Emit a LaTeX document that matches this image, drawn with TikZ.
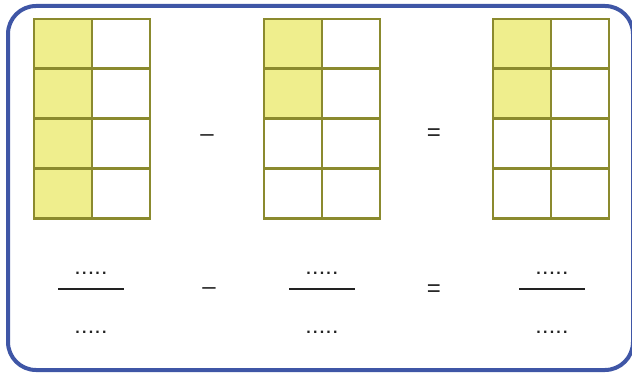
\documentclass[tikz,border=0pt]{standalone}
\usepackage{fontspec}
\setmainfont{Liberation Sans}
\definecolor{frameblue}{HTML}{3F56A6}
\definecolor{gridolive}{HTML}{8B8A2E}
\definecolor{cellyellow}{HTML}{EFEE8D}
\definecolor{inkdark}{HTML}{222222}
\newcommand\fivedots{.\kern2.2pt.\kern2.2pt.\kern2.2pt.\kern2.2pt.}
\begin{document}
\begin{tikzpicture}[x=1pt,y=-1pt,
  frame/.style={draw=frameblue,line width=4pt,rounded corners=28pt},
  cellbox/.style={draw=gridolive,line width=2.8pt,minimum width=58pt,minimum height=50pt,inner sep=0pt,outer sep=0pt,fill=white},
  filled/.style={cellbox,fill=cellyellow},
  opsign/.style={font=\fontsize{24}{24}\selectfont,text=inkdark,inner sep=0pt},
  dotstext/.style={font=\fontsize{16}{16}\selectfont\bfseries,text=inkdark,inner sep=0pt},
  fracline/.style={draw=inkdark,line width=2pt}]
\useasboundingbox (0,0) rectangle (632,374);
\draw[frame] (8,6) rectangle (633,370);
% grids
\foreach \gx/\nf [count=\g] in {34/4,264/2,493/2}{
  \foreach \r in {0,1,2,3}{
    \pgfmathtruncatemacro{\isf}{\r<\nf ? 1 : 0}
    \ifnum\isf=1
      \node[filled,anchor=north west] (g\g l\r) at (\gx,19+\r*49.75) {};
    \else
      \node[cellbox,anchor=north west] (g\g l\r) at (\gx,19+\r*49.75) {};
    \fi
    \node[cellbox,anchor=north west] (g\g r\r) at (\gx+58,19+\r*49.75) {};
  }
}
% operators top
\node[opsign] (m1) at (207,138) {–};
\node[opsign] (e1) at (434,135) {=};
% fractions
\foreach \cx [count=\k] in {91,322,552}{
  \node[dotstext] (n\k) at (\cx,273) {\fivedots};
  \coordinate (la\k) at (\cx-33,289);
  \coordinate (lb\k) at (\cx+33,289);
  \draw[fracline] (la\k) -- (lb\k);
  \node[dotstext] (d\k) at (\cx,332) {\fivedots};
}
\node[opsign] (m2) at (209,291) {–};
\node[opsign] (e2) at (434,291) {=};
\end{tikzpicture}
\end{document}
